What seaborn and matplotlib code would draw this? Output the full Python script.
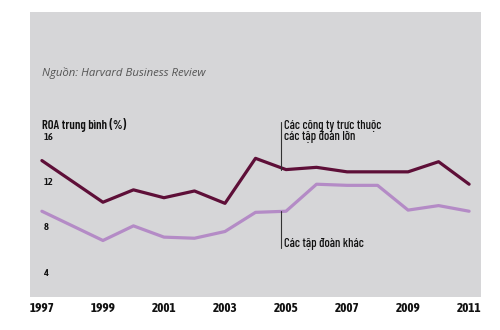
import matplotlib
matplotlib.use("Agg")
import matplotlib.pyplot as plt
import pandas as pd
import seaborn as sns

# Average ROA (%) by year
years = [1997, 1999, 2000, 2001, 2002, 2003, 2004, 2005, 2006, 2007, 2008, 2009, 2010, 2011]
affiliated = [13.9, 10.2, 11.3, 10.6, 11.2, 10.1, 14.1, 13.1, 13.3, 12.9, 12.9, 12.9, 13.8, 11.8]
other_groups = [9.4, 6.8, 8.1, 7.1, 7.0, 7.6, 9.3, 9.4, 11.8, 11.7, 11.7, 9.5, 9.9, 9.4]

x_ticks = [1997, 1999, 2001, 2003, 2005, 2007, 2009, 2011]
y_ticks = [4, 8, 12, 16]

label_affiliated = "Các công ty trực thuộc\ncác tập đoàn lớn"
label_other = "Các tập đoàn khác"

df = pd.DataFrame({
    "year": years * 2,
    "roa": affiliated + other_groups,
    "group": ["affiliated"] * len(years) + ["other"] * len(years),
})

sns.set_theme(style="white")
plt.rcParams["font.family"] = ["Barlow Condensed", "DejaVu Sans"]
tick_font = ["Asap Condensed", "DejaVu Sans"]

fig = plt.figure(figsize=(5.0, 3.3), dpi=100)
fig.patch.set_facecolor("white")
ax = fig.add_axes([0.06, 0.10, 0.902, 0.8636])
ax.set_facecolor("#d6d6d8")

sns.lineplot(
    data=df, x="year", y="roa", hue="group",
    palette={"affiliated": "#5e0f38", "other": "#b48bc6"},
    linewidth=2.3, legend=False, ax=ax,
)

ax.set_xlim(1996.61, 2011.39)
ax.set_ylim(1.78, 27.1)
for s in ax.spines.values():
    s.set_visible(False)

ax.set_xlabel("")
ax.set_ylabel("")
ax.set_xticks(x_ticks)
ax.set_xticklabels([str(v) for v in x_ticks], fontsize=9.5, fontweight="bold",
                   color="#111111", family=tick_font)
ax.tick_params(axis="x", length=0, pad=3.5)
ax.set_yticks(y_ticks)
ax.set_yticklabels([str(v) for v in y_ticks], fontsize=7.5, fontweight="semibold",
                   color="#111111", family=tick_font)
for t in ax.get_yticklabels():
    t.set_horizontalalignment("left")
ax.tick_params(axis="y", length=0, pad=-10)

# Source and axis title
ax.text(0.026, 0.787, "Nguồn: Harvard Business Review", transform=ax.transAxes,
        fontsize=8.2, style="italic", color="#555555", family=["Open Sans", "DejaVu Sans"],
        va="center", ha="left")
ax.text(0.026, 0.604, "ROA trung bình (%)", transform=ax.transAxes,
        fontsize=9, fontweight="semibold", color="#111111", va="center", ha="left")

# Series annotations with leader lines
ax.plot([2004.83, 2004.83], [13.1, 17.3], color="#333333", linewidth=0.8)
ax.text(2004.93, 17.55, label_affiliated, fontsize=9, fontweight="medium", color="#111111",
        va="top", ha="left", linespacing=0.95)
ax.plot([2004.83, 2004.83], [6.1, 9.4], color="#333333", linewidth=0.8)
ax.text(2004.93, 6.5, label_other, fontsize=9, fontweight="medium", color="#111111",
        va="center", ha="left")

fig.savefig("out.png", dpi=100, facecolor="white")
